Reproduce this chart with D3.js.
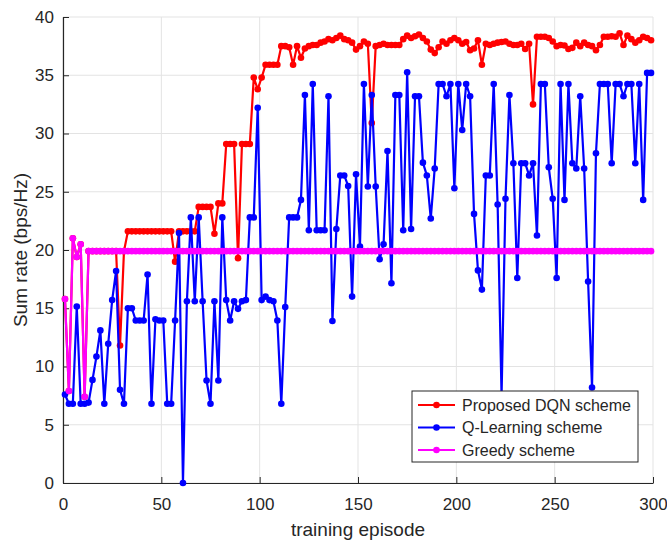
<!DOCTYPE html>
<html>
<head>
<meta charset="utf-8">
<script src="https://cdn.jsdelivr.net/npm/d3@7"></script>
<style>
body { margin: 0; background: #fff; }
text { font-family: "Liberation Sans", Arial, Helvetica, sans-serif; fill: #262626; }
</style>
</head>
<body>
<svg width="667" height="540"></svg>
<script>
// episodes sampled every 2 steps (1, 3, ..., 299)
var episodes = d3.range(1, 300, 2);

var dqn = [
  15.8, 7.9, 21.0, 19.4, 20.5, 7.4, 19.9, 19.9, 19.9, 19.9,
  19.9, 19.9, 19.9, 19.9, 11.8, 19.9, 21.6, 21.6, 21.6, 21.6,
  21.6, 21.6, 21.6, 21.6, 21.6, 21.6, 21.6, 21.6, 19.0, 21.6,
  21.6, 21.6, 21.6, 21.6, 23.7, 23.7, 23.7, 23.7, 21.4, 24.0,
  24.0, 29.1, 29.1, 29.1, 19.3, 29.1, 29.1, 29.1, 34.8, 33.8,
  34.8, 35.9, 35.9, 35.9, 35.9, 37.5, 37.5, 37.4, 35.9, 37.5,
  36.5, 37.3, 37.5, 37.6, 37.6, 37.8, 37.9, 38.1, 38.0, 38.2,
  38.4, 38.1, 38.0, 37.8, 37.2, 37.5, 37.9, 37.7, 30.9, 37.5,
  37.6, 37.7, 37.6, 37.6, 37.6, 37.6, 38.1, 38.4, 38.2, 38.35,
  38.5, 38.2, 37.9, 37.2, 36.9, 37.4, 37.9, 37.7, 38.0, 38.2,
  38.0, 37.7, 37.85, 37.15, 37.3, 38.0, 35.9, 37.7, 37.6, 37.7,
  37.8, 37.85, 37.9, 37.7, 37.6, 37.6, 37.7, 37.25, 37.7, 32.5,
  38.3, 38.3, 38.3, 38.2, 37.9, 37.5, 37.6, 37.55, 37.25, 37.35,
  37.8, 37.5, 37.8, 37.6, 37.5, 37.15, 37.6, 38.3, 38.3, 38.35,
  38.3, 38.6, 37.6, 38.4, 38.1, 37.8, 38.0, 38.3, 38.2, 38.0
];

var qlearn = [
  7.6, 6.8, 6.8, 15.15, 6.8, 6.8, 6.9, 8.85, 10.85, 13.1,
  6.8, 11.95, 15.7, 18.2, 8.0, 6.8, 15.0, 15.0, 13.95, 13.95,
  13.95, 17.9, 6.8, 14.06, 13.95, 13.95, 6.8, 6.8, 13.95, 21.45,
  0, 15.6, 22.8, 15.6, 22.8, 15.6, 8.8, 6.8, 15.6, 8.8,
  22.8, 15.7, 13.95, 15.6, 14.95, 15.6, 15.7, 22.8, 22.8, 32.2,
  15.7, 16.0, 15.7, 15.6, 13.95, 6.8, 15.1, 22.8, 22.8, 22.8,
  24.3, 33.3, 21.7, 34.25, 21.7, 21.7, 21.7, 33.2, 13.9, 21.8,
  26.4, 26.4, 25.5, 16.0, 26.5, 20.3, 34.25, 25.45, 33.3, 25.45,
  19.2, 20.5, 28.5, 17.15, 33.3, 33.3, 21.7, 35.25, 21.8, 33.2,
  33.2, 27.5, 26.4, 22.7, 27.0, 34.25, 34.25, 33.2, 34.25, 25.3,
  34.25, 30.3, 34.25, 33.2, 23.1, 18.25, 16.6, 26.4, 26.4, 34.25,
  23.9, 7.5, 24.4, 33.3, 27.45, 17.6, 27.45, 27.45, 26.4, 27.45,
  21.25, 34.25, 34.25, 27.1, 24.4, 17.6, 34.25, 24.3, 34.25, 27.45,
  27.0, 33.2, 27.0, 17.3, 8.2, 28.3, 34.25, 34.25, 34.25, 27.45,
  34.25, 34.25, 33.2, 34.25, 34.25, 27.45, 34.25, 24.3, 35.2, 35.2
];

var greedy = [
  15.8, 7.9, 21.0, 19.4, 20.5, 7.4, 19.9, 19.9, 19.9, 19.9,
  19.9, 19.9, 19.9, 19.9, 19.9, 19.9, 19.9, 19.9, 19.9, 19.9,
  19.9, 19.9, 19.9, 19.9, 19.9, 19.9, 19.9, 19.9, 19.9, 19.9,
  19.9, 19.9, 19.9, 19.9, 19.9, 19.9, 19.9, 19.9, 19.9, 19.9,
  19.9, 19.9, 19.9, 19.9, 19.9, 19.9, 19.9, 19.9, 19.9, 19.9,
  19.9, 19.9, 19.9, 19.9, 19.9, 19.9, 19.9, 19.9, 19.9, 19.9,
  19.9, 19.9, 19.9, 19.9, 19.9, 19.9, 19.9, 19.9, 19.9, 19.9,
  19.9, 19.9, 19.9, 19.9, 19.9, 19.9, 19.9, 19.9, 19.9, 19.9,
  19.9, 19.9, 19.9, 19.9, 19.9, 19.9, 19.9, 19.9, 19.9, 19.9,
  19.9, 19.9, 19.9, 19.9, 19.9, 19.9, 19.9, 19.9, 19.9, 19.9,
  19.9, 19.9, 19.9, 19.9, 19.9, 19.9, 19.9, 19.9, 19.9, 19.9,
  19.9, 19.9, 19.9, 19.9, 19.9, 19.9, 19.9, 19.9, 19.9, 19.9,
  19.9, 19.9, 19.9, 19.9, 19.9, 19.9, 19.9, 19.9, 19.9, 19.9,
  19.9, 19.9, 19.9, 19.9, 19.9, 19.9, 19.9, 19.9, 19.9, 19.9,
  19.9, 19.9, 19.9, 19.9, 19.9, 19.9, 19.9, 19.9, 19.9, 19.9
];

var seriesNames = ["Proposed DQN scheme", "Q-Learning scheme", "Greedy scheme"];
var seriesColors = ["#ff0000", "#0000ff", "#ff00ff"];
var xTicks = [0, 50, 100, 150, 200, 250, 300];
var yTicks = [0, 5, 10, 15, 20, 25, 30, 35, 40];

var svg = d3.select("svg"),
    margin = {top: 17, right: 14, bottom: 57, left: 63},
    width = +svg.attr("width") - margin.left - margin.right,
    height = +svg.attr("height") - margin.top - margin.bottom;

var g = svg.append("g").attr("transform", "translate(" + margin.left + "," + margin.top + ")");

var x = d3.scaleLinear().domain([0, 300]).range([0, width]);
var y = d3.scaleLinear().domain([0, 40]).range([height, 0]);

// grid
g.append("g").selectAll("line").data(xTicks).enter().append("line")
    .attr("x1", function(d) { return x(d); }).attr("x2", function(d) { return x(d); })
    .attr("y1", 0).attr("y2", height)
    .attr("stroke", "#e3e3e3").attr("stroke-width", 1);
g.append("g").selectAll("line").data(yTicks).enter().append("line")
    .attr("y1", function(d) { return y(d); }).attr("y2", function(d) { return y(d); })
    .attr("x1", 0).attr("x2", width)
    .attr("stroke", "#e3e3e3").attr("stroke-width", 1);

// axes (ticks pointing inward, like matlab)
var xAxis = g.append("g").attr("transform", "translate(0," + height + ")")
    .call(d3.axisBottom(x).tickValues(xTicks).tickSizeInner(-6).tickSizeOuter(0).tickPadding(15));
var yAxis = g.append("g")
    .call(d3.axisLeft(y).tickValues(yTicks).tickSizeInner(-6).tickSizeOuter(0).tickPadding(9));
[xAxis, yAxis].forEach(function(a) {
  a.select(".domain").attr("stroke", "#262626").attr("stroke-width", 1.2);
  a.selectAll(".tick line").attr("stroke", "#262626");
  a.selectAll(".tick text").style("font-size", "17px").attr("fill", "#262626")
    .style("font-family", "'Liberation Sans', Arial, sans-serif");
});

var line = d3.line()
    .x(function(d) { return x(d[0]); })
    .y(function(d) { return y(d[1]); });

var allSeries = [dqn, qlearn, greedy];
allSeries.forEach(function(vals, k) {
  var pts = episodes.map(function(e, i) { return [e, vals[i]]; });
  var sg = g.append("g");
  sg.append("path").datum(pts)
    .attr("d", line)
    .attr("fill", "none")
    .attr("stroke", seriesColors[k])
    .attr("stroke-width", 2.2)
    .attr("stroke-linejoin", "round");
  sg.selectAll("circle").data(pts).enter().append("circle")
    .attr("cx", function(d) { return x(d[0]); })
    .attr("cy", function(d) { return y(d[1]); })
    .attr("r", 3.3)
    .attr("fill", seriesColors[k]);
});

// labels
svg.append("text")
    .attr("x", margin.left + width / 2).attr("y", 536)
    .attr("text-anchor", "middle").style("font-size", "19px")
    .text("training episode");
svg.append("text")
    .attr("transform", "translate(27," + (margin.top + height / 2) + ") rotate(-90)")
    .attr("text-anchor", "middle").style("font-size", "19px")
    .text("Sum rate (bps/Hz)");

// legend
var lg = svg.append("g").attr("transform", "translate(412,391)");
lg.append("rect").attr("width", 226).attr("height", 71)
    .attr("fill", "#fff").attr("stroke", "#262626").attr("stroke-width", 1);
seriesNames.forEach(function(name, k) {
  var ly = 14 + k * 22.5;
  lg.append("line").attr("x1", 6).attr("x2", 43).attr("y1", ly).attr("y2", ly)
    .attr("stroke", seriesColors[k]).attr("stroke-width", 2.2);
  lg.append("circle").attr("cx", 24.5).attr("cy", ly).attr("r", 3.3).attr("fill", seriesColors[k]);
  lg.append("text").attr("x", 50).attr("y", ly + 5.5).style("font-size", "16px").text(name);
});
</script>
</body>
</html>
